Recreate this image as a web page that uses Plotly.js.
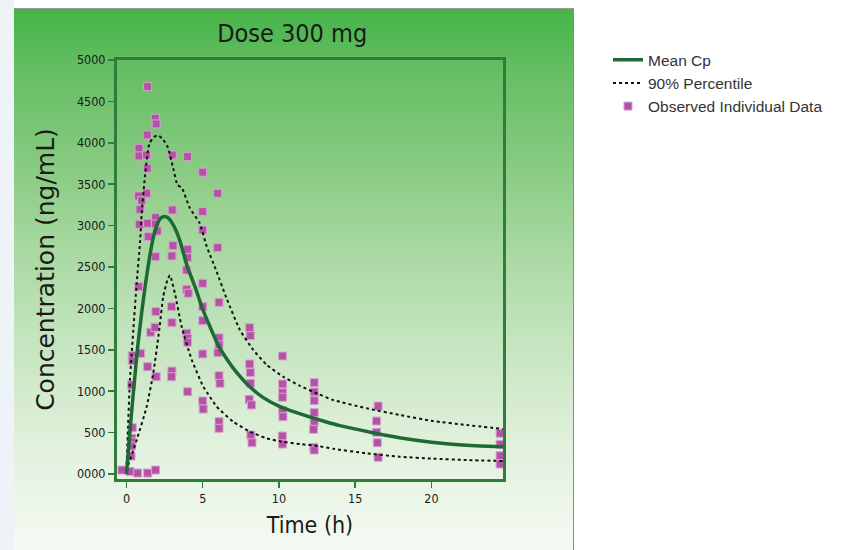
<!DOCTYPE html>
<html>
<head>
<meta charset="utf-8">
<script src="https://cdn.plot.ly/plotly-3.0.1.min.js"></script>
<style>
  html, body { margin: 0; padding: 0; background: #ffffff; }
  #wrap { position: relative; width: 852px; height: 550px; overflow: hidden; }
  #strip { position: absolute; left: 0; top: 0; width: 14px; height: 550px; background: #eef3f8; }
  #bg { position: absolute; left: 14px; top: 8px; width: 559px; height: 542px;
        border-top: 1px solid #9a9a9a; border-right: 1px solid #8a8a8a;
        background: linear-gradient(to bottom, #45b448 0%, #62bd60 10%, #86ca80 28%, #a9d9a2 45%, #c6e5c0 62%, #e0f1dc 80%, #f5faf4 100%); }
  #chart { position: absolute; left: 0; top: 0; width: 852px; height: 550px; }
</style>
</head>
<body>
<div id="wrap">
  <div id="strip"></div>
  <div id="bg"></div>
  <div id="chart"></div>
</div>
<script>
// ---- Data ----
const xTickVals = [0, 5, 10, 15, 20];
const yTickVals = [0, 500, 1000, 1500, 2000, 2500, 3000, 3500, 4000, 4500, 5000];
const yTickText = ["0000", "500", "1000", "1500", "2000", "2500", "3000", "3500", "4000", "4500", "5000"];

const meanTime = [0, 0.25, 0.5, 0.75, 1, 1.25, 1.5, 1.75, 2, 2.25, 2.5, 2.75, 3, 3.25, 3.5, 3.75, 4, 4.5, 5, 5.5, 6, 6.5, 7, 8, 9, 10, 11, 12, 13, 14, 16, 18, 20, 22, 24.7];
const meanConc = [0, 560, 1080, 1560, 1950, 2300, 2600, 2850, 3010, 3090, 3110, 3090, 3030, 2940, 2820, 2660, 2500, 2260, 1990, 1770, 1560, 1410, 1280, 1070, 920, 820, 750, 690, 635, 585, 505, 435, 385, 352, 330];

const upperTime = [0, 0.1, 0.23, 0.45, 0.67, 0.89, 1.0, 1.21, 1.5, 1.8, 2.09, 2.4, 2.7, 3.07, 3.35, 3.62, 4.16, 4.8, 5.26, 5.9, 6.57, 7.44, 8.31, 9.19, 10.28, 11.38, 12.58, 13.56, 15.75, 17.93, 20.1, 22.3, 24.7];
const upperConc = [40, 560, 1140, 1740, 2300, 2800, 3150, 3590, 3990, 4070, 4090, 4040, 3950, 3690, 3490, 3460, 3210, 3030, 2750, 2450, 2120, 1740, 1500, 1320, 1175, 1065, 966, 894, 794, 713, 640, 592, 544];

const lowerTime = [0, 0.12, 0.67, 1.32, 1.76, 2.15, 2.41, 2.68, 2.85, 3.18, 3.62, 4.28, 5.04, 5.48, 5.91, 7.0, 8.1, 9.19, 10.24, 11.38, 12.58, 13.56, 15.75, 17.93, 20.1, 22.3, 24.7];
const lowerConc = [40, 110, 410, 810, 1220, 1740, 2140, 2340, 2400, 2180, 1780, 1380, 1055, 930, 815, 632, 511, 431, 390, 362, 338, 305, 250, 209, 185, 169, 157];

const obsTime = [
  -0.3, 0.23, 0.73, 1.39, 1.91,
  0.38, 0.38, 0.34, 0.38, 0.36, 0.34, 0.34, 0.30,
  0.82, 0.82, 0.80, 1.00, 0.89, 0.84, 0.80, 0.93,
  1.39, 1.36, 1.32, 1.36, 1.32, 1.39, 1.43, 1.39, 1.59,
  1.89, 1.95, 1.91, 1.91, 2.02, 1.91, 1.93, 1.87, 1.95,
  3.00, 3.00, 3.05, 2.98, 2.96, 2.98, 2.98, 2.96,
  4.01, 4.01, 4.01, 3.95, 3.95, 4.05, 3.95, 4.00, 4.00, 4.01,
  5.00, 5.00, 5.00, 5.00, 5.00, 5.00, 5.00, 5.00, 5.03,
  5.98, 5.98, 6.07, 6.07, 6.07, 6.00, 6.07, 6.13, 6.07, 6.07,
  8.08, 8.12, 8.08, 8.12, 8.12, 8.05, 8.20, 8.16, 8.23,
  10.24, 10.24, 10.24, 10.24, 10.24, 10.26, 10.22, 10.24,
  12.31, 12.31, 12.31, 12.31, 12.31, 12.27, 12.27, 12.31,
  16.50, 16.40, 16.40, 16.45, 16.50,
  24.5, 24.5, 24.5, 24.5
];
const obsConc = [
  48, 30, 12, 12, 48,
  1429, 1369, 1075, 559, 431, 390, 338, 217,
  3934, 3841, 3358, 3302, 3198, 3016, 2263, 1458,
  4679, 4095, 3853, 3693, 3391, 3028, 2867, 1296, 1712,
  4297, 4228, 3096, 3020, 2935, 2625, 1961, 1772, 1175,
  3853, 3189, 2758, 2633, 2021, 1828, 1244, 1175,
  3833, 2714, 2613, 2464, 2231, 2183, 1700, 1639, 1591, 994,
  3645, 3169, 2947, 2304, 2021, 1852, 1450, 882, 785,
  3391, 2734, 2074, 1645, 1560, 1465, 1187, 1096, 632, 552,
  1767, 1671, 1329, 1224, 1096, 902, 834, 471, 378,
  1425, 1087, 982, 927, 765, 692, 459, 362,
  1103, 991, 886, 741, 632, 540, 322, 290,
  821, 640, 504, 378, 202,
  492, 359, 221, 121
];

// ---- Traces ----
const traces = [
  {
    x: obsTime, y: obsConc, type: 'scatter', mode: 'markers',
    name: 'Observed Individual Data', legendrank: 3,
    marker: { symbol: 'square', size: 8, color: '#b452a6', line: { color: '#d7a2cf', width: 1 } }
  },
  {
    x: upperTime, y: upperConc, type: 'scatter', mode: 'lines',
    name: '90% Percentile', legendrank: 2,
    line: { color: '#111111', width: 2, dash: 'dot', shape: 'spline', smoothing: 0.5 }
  },
  {
    x: lowerTime, y: lowerConc, type: 'scatter', mode: 'lines',
    name: '90% Percentile', showlegend: false,
    line: { color: '#111111', width: 2, dash: 'dot', shape: 'spline', smoothing: 0.5 }
  },
  {
    x: meanTime, y: meanConc, type: 'scatter', mode: 'lines',
    name: 'Mean Cp', legendrank: 1,
    line: { color: '#1e6a34', width: 3.5, shape: 'spline', smoothing: 0.5 }
  }
];

const axisFont = { family: 'DejaVu Sans Condensed, DejaVu Sans, sans-serif', size: 12.5, color: '#1a1a1a' };

const layout = {
  width: 852, height: 550,
  margin: { l: 117, r: 349, t: 60, b: 71, pad: 0 },
  paper_bgcolor: 'rgba(0,0,0,0)',
  plot_bgcolor: 'rgba(0,0,0,0)',
  showlegend: true,
  title: {
    text: 'Dose 300 mg',
    font: { family: 'DejaVu Sans Condensed, DejaVu Sans, sans-serif', size: 25, color: '#1a1a1a' },
    x: 0.343, xanchor: 'center', y: 0.94, yanchor: 'middle'
  },
  xaxis: {
    range: [-0.62, 24.69],
    tickmode: 'array', tickvals: xTickVals,
    ticks: 'outside', ticklen: 6, tickwidth: 1.5, tickcolor: '#2f7d3b',
    showline: true, linecolor: '#2f7d3b', linewidth: 3, mirror: true,
    showgrid: false, zeroline: false,
    tickfont: axisFont,
    title: { text: 'Time (h)', font: { family: 'DejaVu Sans Condensed, DejaVu Sans, sans-serif', size: 23, color: '#1a1a1a' }, standoff: 12 }
  },
  yaxis: {
    range: [-60, 5000],
    tickmode: 'array', tickvals: yTickVals, ticktext: yTickText,
    ticks: 'outside', ticklen: 6, tickwidth: 1.5, tickcolor: '#2f7d3b',
    showline: true, linecolor: '#2f7d3b', linewidth: 3, mirror: true,
    showgrid: false, zeroline: false,
    tickfont: axisFont,
    title: { text: 'Concentration (ng/mL)', font: { family: 'DejaVu Sans, sans-serif', size: 25, color: '#1a1a1a' }, standoff: 16 }
  },
  legend: {
    x: 1.272, xanchor: 'left', y: 1.04, yanchor: 'top',
    bgcolor: 'rgba(0,0,0,0)',
    font: { family: 'Liberation Sans, Arial, sans-serif', size: 15.5, color: '#333333' },
    itemwidth: 30, tracegroupgap: 0
  }
};

Plotly.newPlot('chart', traces, layout, { displayModeBar: false, staticPlot: true });
</script>
</body>
</html>
